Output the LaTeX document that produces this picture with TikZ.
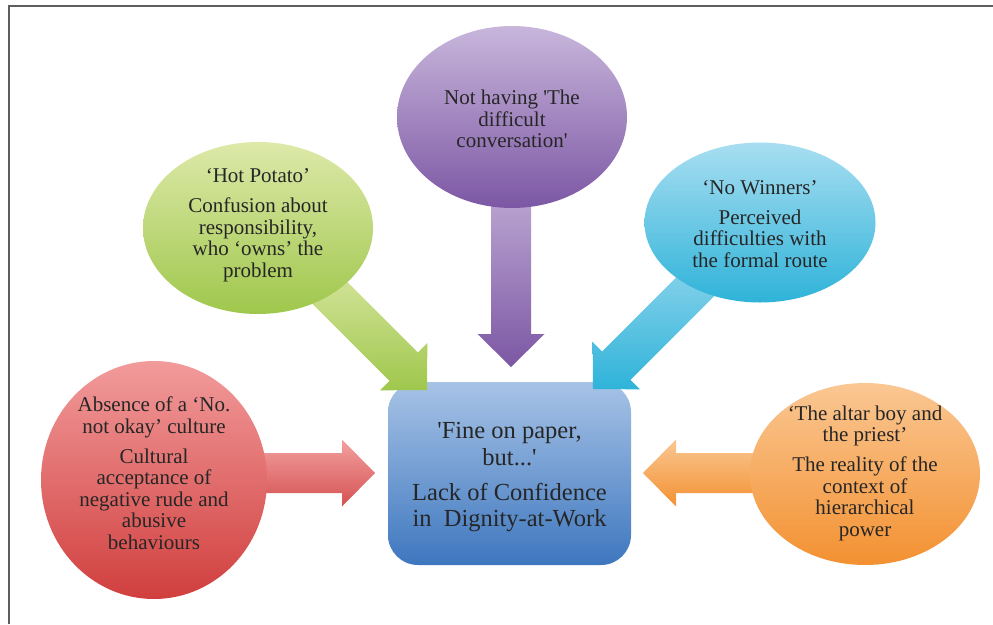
\documentclass[tikz,border=0pt]{standalone}
\usepackage{fontspec}
\setmainfont{Liberation Serif}
\usetikzlibrary{shapes.geometric,calc}

\definecolor{textgray}{HTML}{262626}
\definecolor{framegray}{HTML}{5E5E5E}
\definecolor{redtop}{HTML}{F29B9B}
\definecolor{redbot}{HTML}{D03F3E}
\definecolor{greentop}{HTML}{DDE9A9}
\definecolor{greenbot}{HTML}{9FC74C}
\definecolor{purptop}{HTML}{C8B6DB}
\definecolor{purpbot}{HTML}{7C57A4}
\definecolor{bluetop}{HTML}{A8DEF1}
\definecolor{bluebot}{HTML}{2FB3D9}
\definecolor{orangetop}{HTML}{FAC793}
\definecolor{orangebot}{HTML}{F39131}
\definecolor{boxtop}{HTML}{A7C3E6}
\definecolor{boxbot}{HTML}{3E77BF}

% block arrow from #2 to #3, shaded with style #1
\newcommand{\blockarrow}[3]{%
    \coordinate (hb) at ($(#3)!33pt!(#2)$);
    \shade[#1] ($(#2)!20pt!90:(#3)$) -- ($(hb)!20pt!90:(#3)$) -- ($(hb)!33.5pt!90:(#3)$) -- (#3)
        -- ($(hb)!33.5pt!-90:(#3)$) -- ($(hb)!20pt!-90:(#3)$) -- ($(#2)!20pt!-90:(#3)$) -- cycle;
}

\begin{document}
\begin{tikzpicture}[x=1pt,y=-1pt]

    % Define styles
    \tikzset{
        frame line/.style={line width=2pt, draw=framegray},
        bubble/.style={ellipse, inner sep=0pt, minimum width=230pt},
        bubble text/.style={align=center, text=textgray, font=\fontsize{21}{21.5}\selectfont},
        core box/.style={rectangle, rounded corners=30pt, minimum width=243pt, minimum height=183pt,
            top color=boxtop, bottom color=boxbot},
        core text/.style={align=center, text=textgray, font=\fontsize{24.5}{26.5}\selectfont},
        arrow red/.style={top color=redtop!95!white, bottom color=redbot!90!white},
        arrow green/.style={top color=greentop!90!greenbot, bottom color=greenbot},
        arrow purple/.style={top color=purptop!85!purpbot, bottom color=purpbot},
        arrow blue/.style={top color=bluetop!75!bluebot, bottom color=bluebot},
        arrow orange/.style={top color=orangetop, bottom color=orangebot}
    }

    \useasboundingbox (0,0) rectangle (993,624);

    % Frame (top and left edges)
    \draw[frame line] (9,624) -- (9,6) -- (993,6);

    % Define coordinates for arrow tails and tips
    \coordinate (hot-tail) at (315,278);
    \coordinate (hot-tip) at (427,390);
    \coordinate (talk-tail) at (511,190);
    \coordinate (talk-tip) at (511,367);
    \coordinate (win-tail) at (705,277);
    \coordinate (win-tip) at (593,389);
    \coordinate (absence-tail) at (230,473);
    \coordinate (absence-tip) at (375,473);
    \coordinate (altar-tail) at (800,473);
    \coordinate (altar-tip) at (643,473);

    % Central box
    \node[core box] (core) at (509.5,473.5) {};
    \node[core text] (core-text) at ($(core)+(0,4)$) {%
        \textquotesingle Fine on paper,\\
        but...\textquotesingle\\[8.5pt]
        Lack of Confidence\\
        in\ \ Dignity-at-Work};

    % Block arrows towards the box
    \blockarrow{arrow green}{hot-tail}{hot-tip}
    \blockarrow{arrow purple}{talk-tail}{talk-tip}
    \blockarrow{arrow blue}{win-tail}{win-tip}
    \blockarrow{arrow red}{absence-tail}{absence-tip}
    \blockarrow{arrow orange}{altar-tail}{altar-tip}

    % Bubbles
    \node[bubble, minimum width=226pt, minimum height=238pt, top color=redtop, bottom color=redbot]
        (absence) at (154,480) {};
    \node[bubble, minimum height=172pt, top color=greentop, bottom color=greenbot]
        (hot) at (258,228) {};
    \node[bubble, minimum height=182pt, top color=purptop, bottom color=purpbot]
        (talk) at (512,117) {};
    \node[bubble, minimum width=231pt, minimum height=160pt, top color=bluetop, bottom color=bluebot]
        (win) at (760,222.5) {};
    \node[bubble, minimum height=182pt, top color=orangetop, bottom color=orangebot]
        (altar) at (865,474) {};

    % Bubble texts
    \node[bubble text] (absence-text) at ($(absence)+(0,-7)$) {%
        Absence of a `No. \\ not okay' culture\\[8.5pt]
        Cultural\\ acceptance of\\ negative rude and\\ abusive\\ behaviours};
    \node[bubble text] (hot-text) at ($(hot)+(0,-3)$) {%
        `Hot Potato'\\[8.5pt]
        Confusion about\\ responsibility,\\ who `owns' the\\ problem};
    \node[bubble text] (talk-text) at ($(talk)+(0,2)$) {%
        Not having \textquotesingle The\\ difficult\\ conversation\textquotesingle};
    \node[bubble text] (win-text) at ($(win)+(0,1.5)$) {%
        `No Winners'\\[8.5pt]
        Perceived\\ difficulties with\\ the formal route};
    \node[bubble text] (altar-text) at ($(altar)+(0,-1)$) {%
        `The altar boy and\\ the priest'\\[8.5pt]
        The reality of the\\ context of\\ hierarchical\\ power};

\end{tikzpicture}
\end{document}
